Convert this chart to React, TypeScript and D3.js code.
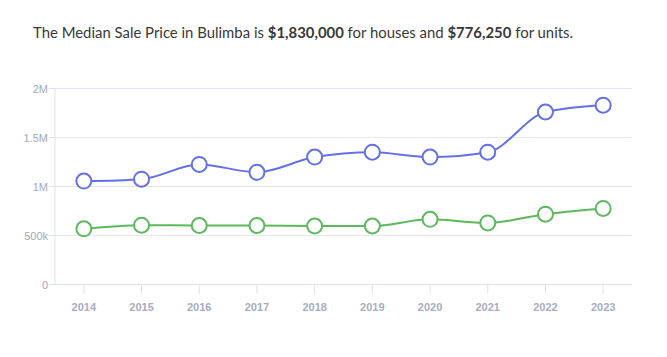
import React from "react";
import * as d3 from "d3";

const years = ["2014", "2015", "2016", "2017", "2018", "2019", "2020", "2021", "2022", "2023"];
const houses = [1055000, 1075000, 1225000, 1145000, 1300000, 1350000, 1300000, 1350000, 1760000, 1830000];
const units = [568000, 605000, 602000, 602000, 597000, 597000, 665000, 628000, 718000, 776250];
const yTicks = [0, 500000, 1000000, 1500000, 2000000];
const yTickLabels = ["0", "500k", "1M", "1.5M", "2M"];

const W = 667;
const H = 357;
const left = 55;
const right = 632;
const top = 88.5;
const bottom = 284.5;

export default function App() {
  const x = d3.scaleBand<string>().domain(years).range([left, right]);
  const y = d3.scaleLinear().domain([0, 2000000]).range([bottom, top]);
  const cx = (yr: string) => (x(yr) as number) + x.bandwidth() / 2;
  const line = d3
    .line<number>()
    .x((_, i) => cx(years[i]))
    .y((d) => y(d))
    .curve(d3.curveMonotoneX);

  const series = [
    { data: houses, color: "#6470e6" },
    { data: units, color: "#5cb85c" },
  ];

  return (
    <svg
      width={W}
      height={H}
      style={{ position: "absolute", left: 0, top: 0, background: "#fff" }}
      fontFamily="Lato, 'Open Sans', sans-serif"
    >
      <text x={33} y={37.5} fontSize={14.9} fill="#383838" fontFamily="Lato, sans-serif">
        The Median Sale Price in Bulimba is <tspan fontWeight="bold">$1,830,000</tspan> for houses and{" "}
        <tspan fontWeight="bold">$776,250</tspan> for units.
      </text>
      {yTicks.map((t, i) => (
        <g key={t}>
          <line x1={left} x2={right} y1={y(t)} y2={y(t)} stroke={i === 0 ? "#dde1ea" : "#e4e7ef"} strokeWidth={1} />
          <line x1={left - 6} x2={left} y1={y(t)} y2={y(t)} stroke="#dde1ea" />
          <text x={left - 7} y={y(t) + 4} textAnchor="end" fontSize={11} fill="#a3a8b8" fontFamily="'Liberation Sans', Arial, sans-serif">
            {yTickLabels[i]}
          </text>
        </g>
      ))}
      <line x1={left} x2={left} y1={top} y2={bottom} stroke="#dde1ea" />
      {years.map((yr) => (
        <g key={yr}>
          <line x1={cx(yr)} x2={cx(yr)} y1={bottom} y2={bottom + 9} stroke="#dde1ea" />
          <text x={cx(yr)} y={311} textAnchor="middle" fontSize={11} fontWeight="bold" fill="#a8adbf" fontFamily="'Liberation Sans', Arial, sans-serif">
            {yr}
          </text>
        </g>
      ))}
      {series.map((s, si) => (
        <g key={si}>
          <path d={line(s.data) || ""} fill="none" stroke={s.color} strokeWidth={2} />
          {s.data.map((v, i) => (
            <circle key={i} cx={cx(years[i])} cy={y(v)} r={7.5} fill="#fff" stroke={s.color} strokeWidth={2} />
          ))}
        </g>
      ))}
    </svg>
  );
}
